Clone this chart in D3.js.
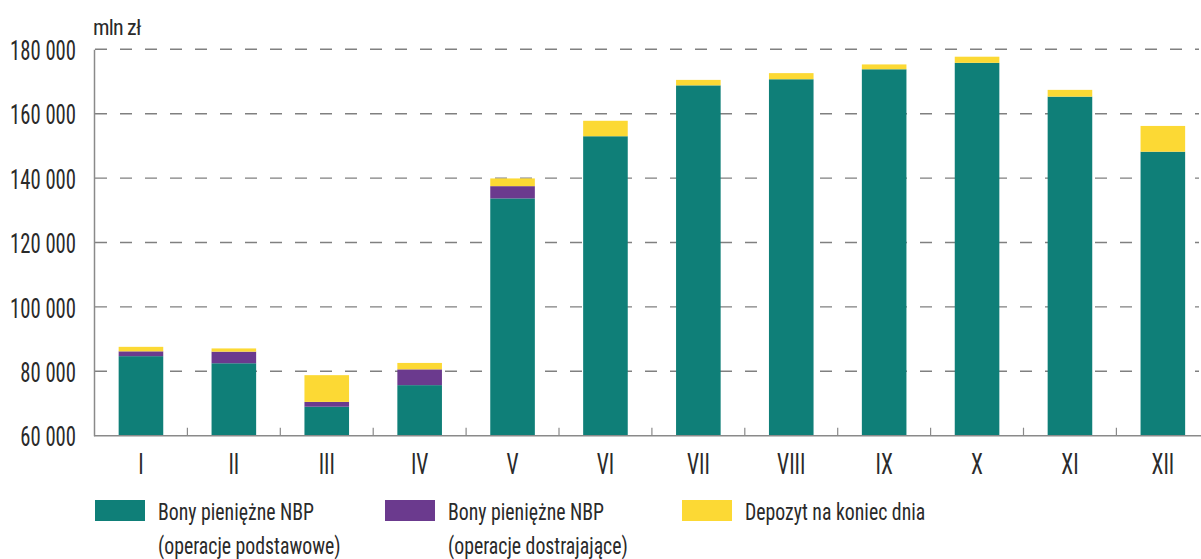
<!DOCTYPE html>
<html><head><meta charset="utf-8">
<script src="https://cdn.jsdelivr.net/npm/d3@7"></script>
<style>
body{margin:0;background:#fff;}
text{font-family:"Liberation Sans Narrow","Arial Narrow","Roboto Condensed","Liberation Sans",sans-serif;fill:#2a2a2a;}
</style></head>
<body><svg id="c" width="1201" height="559"></svg>
<script>
const months = ["I","II","III","IV","V","VI","VII","VIII","IX","X","XI","XII"];
const bonyPodst = [84700,82500,69000,75700,133700,153000,168800,170700,173800,175800,165300,148200];
const bonyDostr = [1500,3600,1500,4900,3800,0,0,0,0,0,0,0];
const depozyt = [1400,1000,8300,2000,2400,4800,1700,1900,1500,1900,2100,8000];
const yTicks = [60000,80000,100000,120000,140000,160000,180000];
const seriesNames = [["Bony pieniężne NBP","(operacje podstawowe)"],["Bony pieniężne NBP","(operacje dostrajające)"],["Depozyt na koniec dnia"]];
const colors = ["#0f7f78","#6b3a8e","#fcd934"];

const svg = d3.select("#c");
const x = d3.scaleBand().domain(months).range([94.5,1209.3]).paddingInner(0.52).paddingOuter(0.26);
const y = d3.scaleLinear().domain([60000,180000]).range([435.7,49.3]).clamp(true);

// helper: condense text horizontally around its anchor
function squeeze(sel, k){
  sel.each(function(){
    const t = d3.select(this);
    const tx = +t.attr("x")||0, ty = +t.attr("y")||0;
    t.attr("x",0).attr("y",0).attr("transform",`translate(${tx},${ty}) scale(${k},1)`);
  });
}

// gridlines
svg.append("g").selectAll("line").data(yTicks.slice(1)).join("line")
  .attr("x1",95).attr("x2",1199).attr("y1",d=>y(d)).attr("y2",d=>y(d))
  .attr("stroke","#808080").attr("stroke-width",1.4).attr("stroke-dasharray","12,13");

// y axis
const yAxis = d3.axisLeft(y).tickValues(yTicks).tickSize(0).tickPadding(18)
  .tickFormat(d=>d3.format(",")(d).replace(/,/g," "));
const ga = svg.append("g").attr("transform","translate(94,0)").call(yAxis);
ga.select(".domain").attr("stroke","#8a8a8a").attr("stroke-width",1.5);
const yt = ga.selectAll(".tick text").attr("font-size",28.5).attr("fill","#2a2a2a").attr("dy","0.36em");
const wY = yt.filter(d=>d===180000).node().getComputedTextLength();
squeeze(yt, 66/wY);

// stacked bars
const data = months.map((m,i)=>({m, a:bonyPodst[i], b:bonyDostr[i], c:depozyt[i]}));
const stack = d3.stack().keys(["a","b","c"])(data);
svg.append("g").selectAll("g").data(stack).join("g").attr("fill",(d,i)=>colors[i])
  .selectAll("rect").data(d=>d).join("rect")
  .attr("x",d=>x(d.data.m)).attr("width",x.bandwidth())
  .attr("y",d=>y(d[1])).attr("height",d=>Math.max(0,y(d[0])-y(d[1])));

// x axis
const xb = svg.append("g").attr("transform","translate(0,435.7)");
xb.append("line").attr("x1",94).attr("x2",1201).attr("stroke","#8a8a8a").attr("stroke-width",1.5);
const bounds = months.slice(1).map(m=>x(m)-x.step()*x.paddingInner()/2);
xb.selectAll("line.t").data(bounds).join("line").attr("class","t")
  .attr("x1",d=>d).attr("x2",d=>d).attr("y1",0).attr("y2",-8).attr("stroke","#8a8a8a").attr("stroke-width",1.2);
const xt = xb.selectAll("text").data(months).join("text")
  .attr("x",d=>x(d)+x.bandwidth()/2).attr("y",38).attr("text-anchor","middle")
  .attr("font-size",30).text(d=>d);
squeeze(xt, 0.72);

// unit label
svg.append("text").attr("x",93).attr("y",35).attr("font-size",22).style("letter-spacing","-0.8px").text("mln zł");

// legend
const legX = [95,385,682];
seriesNames.forEach((n,i)=>{
  const g = svg.append("g").attr("transform",`translate(${legX[i]},0)`);
  g.append("rect").attr("x",0).attr("y",500).attr("width",50).attr("height",21).attr("fill",colors[i]);
  const lt = g.selectAll("text").data(n).join("text").attr("x",63).attr("y",(t,j)=>520+j*34)
    .attr("font-size",23).text(t=>t);
  squeeze(lt, 0.86);
});
</script></body></html>
